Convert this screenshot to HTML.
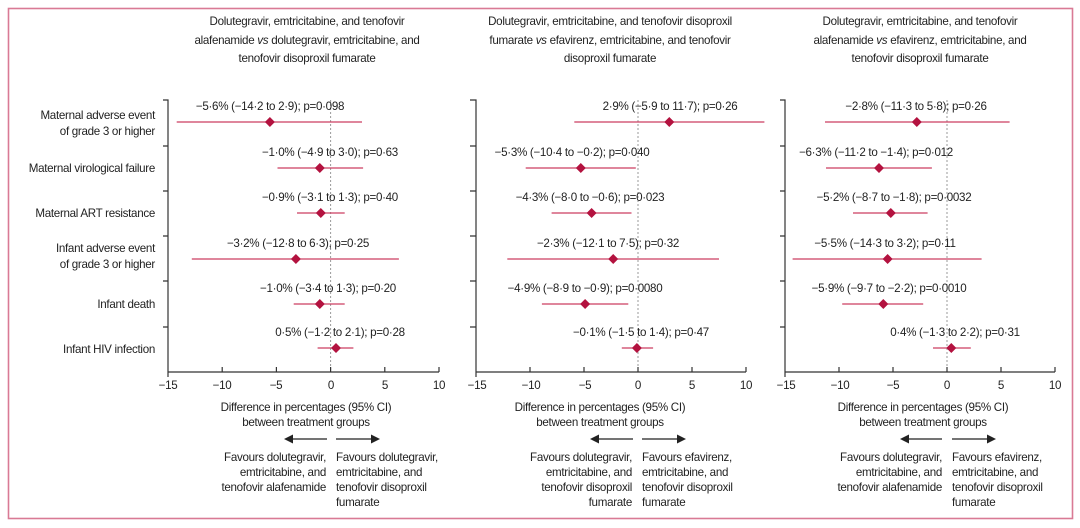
<!DOCTYPE html>
<html><head><meta charset="utf-8"><style>
html,body{margin:0;padding:0;background:#fff}
svg{display:block}
text{font-family:"Liberation Sans",sans-serif;font-size:11.6px;fill:#222;letter-spacing:-0.3px}
.ci{stroke:#cc3d62;stroke-width:1.3}
.ax{stroke:#333;stroke-width:1.2;fill:none}
.z{stroke:#999;stroke-width:1;stroke-dasharray:2,2}
.d{fill:#b3123f}
</style></head><body>
<svg width="1080" height="528" viewBox="0 0 1080 528" xmlns="http://www.w3.org/2000/svg">
<rect x="8.5" y="8.5" width="1064" height="510" fill="none" stroke="#d97a95" stroke-width="1.6"/>

<g text-anchor="middle">
<text x="307" y="25">Dolutegravir, emtricitabine, and tenofovir</text>
<text x="307" y="44">alafenamide <tspan font-style="italic">vs</tspan> dolutegravir, emtricitabine, and</text>
<text x="307" y="62">tenofovir disoproxil fumarate</text>
<text x="610" y="25">Dolutegravir, emtricitabine, and tenofovir disoproxil</text>
<text x="610" y="44">fumarate <tspan font-style="italic">vs</tspan> efavirenz, emtricitabine, and tenofovir</text>
<text x="610" y="62">disoproxil fumarate</text>
<text x="920" y="25">Dolutegravir, emtricitabine, and tenofovir</text>
<text x="920" y="44">alafenamide <tspan font-style="italic">vs</tspan> efavirenz, emtricitabine, and</text>
<text x="920" y="62">tenofovir disoproxil fumarate</text>
</g>

<g text-anchor="end">
<text x="155" y="119">Maternal adverse event</text>
<text x="155" y="135">of grade 3 or higher</text>
<text x="155" y="172">Maternal virological failure</text>
<text x="155" y="217">Maternal ART resistance</text>
<text x="155" y="252">Infant adverse event</text>
<text x="155" y="268">of grade 3 or higher</text>
<text x="155" y="308">Infant death</text>
<text x="155" y="353">Infant HIV infection</text>
</g>

<!-- Panel 1 -->
<g>
<line class="z" x1="330.6" y1="100" x2="330.6" y2="372"/>
<path class="ax" d="M163,100H168V372H439M163,146H168M163,191H168M163,236H168M163,281H168M163,327H168M168,372v5M222.2,372v-5M276.4,372v-5M330.6,372v-5M384.8,372v-5M439,372v-5"/>
<g text-anchor="middle">
<text x="168" y="389">−15</text><text x="222" y="389">−10</text><text x="276" y="389">−5</text><text x="331" y="389">0</text><text x="385" y="389">5</text><text x="439" y="389">10</text>
</g>
<line class="ci" x1="176.7" y1="122" x2="362" y2="122"/>
<line class="ci" x1="277.5" y1="168" x2="363.1" y2="168"/>
<line class="ci" x1="297" y1="213" x2="344.7" y2="213"/>
<line class="ci" x1="191.8" y1="259" x2="398.9" y2="259"/>
<line class="ci" x1="293.7" y1="304" x2="344.7" y2="304"/>
<line class="ci" x1="317.6" y1="348" x2="353.4" y2="348"/>
<path class="d" d="M269.9,117l5,5l-5,5l-5,-5zM319.8,163l5,5l-5,5l-5,-5zM320.8,208l5,5l-5,5l-5,-5zM295.9,254l5,5l-5,5l-5,-5zM319.8,299l5,5l-5,5l-5,-5zM336,343l5,5l-5,5l-5,-5z"/>
<g text-anchor="middle">
<text x="270" y="110">−5·6% (−14·2 to 2·9); p=0·098</text>
<text x="330" y="156">−1·0% (−4·9 to 3·0); p=0·63</text>
<text x="330" y="201">−0·9% (−3·1 to 1·3); p=0·40</text>
<text x="298" y="247">−3·2% (−12·8 to 6·3); p=0·25</text>
<text x="328" y="292">−1·0% (−3·4 to 1·3); p=0·20</text>
<text x="340" y="336">0·5% (−1·2 to 2·1); p=0·28</text>
</g>
<g text-anchor="middle">
<text x="306" y="411">Difference in percentages (95% CI)</text>
<text x="306" y="426">between treatment groups</text>
</g>
<path d="M327,439H292M336,439H372" stroke="#222" stroke-width="1.2"/>
<path d="M284,439l9,-4.5v9zM380,439l-9,-4.5v9z" fill="#222"/>
<g text-anchor="end">
<text x="326" y="461">Favours dolutegravir,</text>
<text x="326" y="476">emtricitabine, and</text>
<text x="326" y="491">tenofovir alafenamide</text>
</g>
<g>
<text x="336" y="461">Favours dolutegravir,</text>
<text x="336" y="476">emtricitabine, and</text>
<text x="336" y="491">tenofovir disoproxil</text>
<text x="336" y="506">fumarate</text>
</g>
</g>

<!-- Panel 2 -->
<g>
<line class="z" x1="638" y1="100" x2="638" y2="372"/>
<path class="ax" d="M470,100H476V372H746M470,146H476M470,191H476M470,236H476M470,281H476M470,327H476M476,372v5M530,372v-5M584,372v-5M638,372v-5M692,372v-5M746,372v-5"/>
<g text-anchor="middle">
<text x="477" y="389">−15</text><text x="531" y="389">−10</text><text x="585" y="389">−5</text><text x="638" y="389">0</text><text x="692" y="389">5</text><text x="746" y="389">10</text>
</g>
<line class="ci" x1="574.3" y1="122" x2="764.4" y2="122"/>
<line class="ci" x1="525.7" y1="168" x2="635.8" y2="168"/>
<line class="ci" x1="551.6" y1="213" x2="631.5" y2="213"/>
<line class="ci" x1="507.3" y1="259" x2="719" y2="259"/>
<line class="ci" x1="541.9" y1="304" x2="628.3" y2="304"/>
<line class="ci" x1="621.8" y1="348" x2="653.1" y2="348"/>
<path class="d" d="M669.3,117l5,5l-5,5l-5,-5zM580.8,163l5,5l-5,5l-5,-5zM591.6,208l5,5l-5,5l-5,-5zM613.2,254l5,5l-5,5l-5,-5zM585.1,299l5,5l-5,5l-5,-5zM636.9,343l5,5l-5,5l-5,-5z"/>
<g text-anchor="middle">
<text x="670" y="110">2·9% (−5·9 to 11·7); p=0·26</text>
<text x="572" y="156">−5·3% (−10·4 to −0·2); p=0·040</text>
<text x="590" y="201">−4·3% (−8·0 to −0·6); p=0·023</text>
<text x="608" y="247">−2·3% (−12·1 to 7·5); p=0·32</text>
<text x="585" y="292">−4·9% (−8·9 to −0·9); p=0·0080</text>
<text x="641" y="336">−0·1% (−1·5 to 1·4); p=0·47</text>
</g>
<g text-anchor="middle">
<text x="600" y="411">Difference in percentages (95% CI)</text>
<text x="600" y="426">between treatment groups</text>
</g>
<path d="M633,439H597M642,439H678" stroke="#222" stroke-width="1.2"/>
<path d="M590,439l9,-4.5v9zM686,439l-9,-4.5v9z" fill="#222"/>
<g text-anchor="end">
<text x="632" y="461">Favours dolutegravir,</text>
<text x="632" y="476">emtricitabine, and</text>
<text x="632" y="491">tenofovir disoproxil</text>
<text x="632" y="506">fumarate</text>
</g>
<g>
<text x="642" y="461">Favours efavirenz,</text>
<text x="642" y="476">emtricitabine, and</text>
<text x="642" y="491">tenofovir disoproxil</text>
<text x="642" y="506">fumarate</text>
</g>
</g>

<!-- Panel 3 -->
<g>
<line class="z" x1="947" y1="100" x2="947" y2="372"/>
<path class="ax" d="M780,100H785V372H1055M780,146H785M780,191H785M780,236H785M780,281H785M780,327H785M785,372v5M839,372v-5M893,372v-5M947,372v-5M1001,372v-5M1055,372v-5"/>
<g text-anchor="middle">
<text x="786" y="389">−15</text><text x="840" y="389">−10</text><text x="893" y="389">−5</text><text x="947" y="389">0</text><text x="1001" y="389">5</text><text x="1055" y="389">10</text>
</g>
<line class="ci" x1="825" y1="122" x2="1009.6" y2="122"/>
<line class="ci" x1="826" y1="168" x2="931.9" y2="168"/>
<line class="ci" x1="853" y1="213" x2="927.6" y2="213"/>
<line class="ci" x1="792.6" y1="259" x2="981.6" y2="259"/>
<line class="ci" x1="842.2" y1="304" x2="923.2" y2="304"/>
<line class="ci" x1="933" y1="348" x2="970.8" y2="348"/>
<path class="d" d="M916.8,117l5,5l-5,5l-5,-5zM879,163l5,5l-5,5l-5,-5zM890.8,208l5,5l-5,5l-5,-5zM887.6,254l5,5l-5,5l-5,-5zM883.3,299l5,5l-5,5l-5,-5zM951.3,343l5,5l-5,5l-5,-5z"/>
<g text-anchor="middle">
<text x="916" y="110">−2·8% (−11·3 to 5·8); p=0·26</text>
<text x="876" y="156">−6·3% (−11·2 to −1·4); p=0·012</text>
<text x="894" y="201">−5·2% (−8·7 to −1·8); p=0·0032</text>
<text x="885" y="247">−5·5% (−14·3 to 3·2); p=0·11</text>
<text x="889" y="292">−5·9% (−9·7 to −2·2); p=0·0010</text>
<text x="955" y="336">0·4% (−1·3 to 2·2); p=0·31</text>
</g>
<g text-anchor="middle">
<text x="923" y="411">Difference in percentages (95% CI)</text>
<text x="923" y="426">between treatment groups</text>
</g>
<path d="M942,439H907M952,439H988" stroke="#222" stroke-width="1.2"/>
<path d="M900,439l9,-4.5v9zM996,439l-9,-4.5v9z" fill="#222"/>
<g text-anchor="end">
<text x="942" y="461">Favours dolutegravir,</text>
<text x="942" y="476">emtricitabine, and</text>
<text x="942" y="491">tenofovir alafenamide</text>
</g>
<g>
<text x="952" y="461">Favours efavirenz,</text>
<text x="952" y="476">emtricitabine, and</text>
<text x="952" y="491">tenofovir disoproxil</text>
<text x="952" y="506">fumarate</text>
</g>
</g>
</svg>
</body></html>
